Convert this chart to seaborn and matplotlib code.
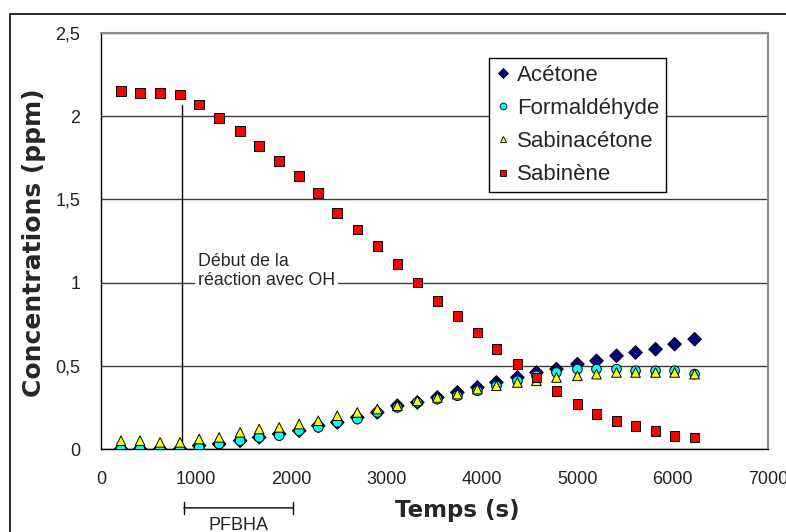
import pandas as pd
import matplotlib.pyplot as plt
from matplotlib.lines import Line2D
import seaborn as sns

#======== Data ========#
temps = [210, 410, 620, 830, 1030, 1240, 1460, 1660, 1870, 2080,
         2280, 2480, 2690, 2900, 3110, 3320, 3530, 3740, 3950, 4150,
         4370, 4570, 4780, 5000, 5200, 5410, 5610, 5820, 6020, 6230]

acetone = [0.00, 0.00, 0.00, 0.00, 0.02, 0.03, 0.05, 0.07, 0.09, 0.11,
           0.14, 0.16, 0.19, 0.22, 0.26, 0.28, 0.31, 0.34, 0.37, 0.40,
           0.43, 0.46, 0.48, 0.51, 0.53, 0.56, 0.58, 0.60, 0.63, 0.66]

formaldehyde = [0.00, 0.00, 0.00, 0.00, 0.01, 0.03, 0.05, 0.07, 0.08, 0.11,
                0.13, 0.16, 0.18, 0.22, 0.25, 0.28, 0.30, 0.32, 0.35, 0.38,
                0.41, 0.44, 0.46, 0.48, 0.48, 0.48, 0.47, 0.47, 0.47, 0.45]

sabinacetone = [0.05, 0.05, 0.04, 0.04, 0.06, 0.07, 0.10, 0.12, 0.13, 0.15,
                0.17, 0.20, 0.22, 0.24, 0.26, 0.29, 0.31, 0.33, 0.36, 0.38,
                0.40, 0.41, 0.43, 0.44, 0.45, 0.46, 0.46, 0.46, 0.46, 0.45]

sabinene = [2.15, 2.14, 2.14, 2.13, 2.07, 1.99, 1.91, 1.82, 1.73, 1.64,
            1.54, 1.42, 1.32, 1.22, 1.11, 1.00, 0.89, 0.80, 0.70, 0.60,
            0.51, 0.43, 0.35, 0.27, 0.21, 0.17, 0.14, 0.11, 0.08, 0.07]

series_names = ['Acétone', 'Formaldéhyde', 'Sabinacétone', 'Sabinène']
x_ticks = [0, 1000, 2000, 3000, 4000, 5000, 6000, 7000]
y_ticks = [0, 0.5, 1, 1.5, 2, 2.5]
y_tick_labels = ['0', '0,5', '1', '1,5', '2', '2,5']

# annotations (start of OH reaction, PFBHA sampling window)
debut_oh = 850
debut_oh_top = 2.07
pfbha_start, pfbha_end = 871, 2015

#======== Long-form table for seaborn ========#
df = pd.DataFrame({
    'Temps': temps * 4,
    'Concentration': acetone + formaldehyde + sabinacetone + sabinene,
    'Composé': [n for n in series_names for _ in temps],
})

palette = {'Acétone': '#000080', 'Formaldéhyde': '#00FFFF',
           'Sabinacétone': '#FFFF00', 'Sabinène': '#FF0000'}
markers = {'Acétone': 'D', 'Formaldéhyde': 'o',
           'Sabinacétone': '^', 'Sabinène': 's'}

sns.set_style('white')
plt.rcParams['font.family'] = ['Liberation Sans', 'DejaVu Sans']

fig = plt.figure(figsize=(7.86, 5.32), dpi=100)
ax = fig.add_axes([0.1285, 0.156, 0.8486, 0.782])

sns.scatterplot(data=df, x='Temps', y='Concentration', hue='Composé',
                style='Composé', palette=palette, markers=markers, s=48,
                edgecolor='black', linewidth=0.7, ax=ax, zorder=3)

ax.set_xlim(0, 7000)
ax.set_ylim(0, 2.5)
ax.set_xticks(x_ticks)
ax.set_yticks(y_ticks)
ax.set_yticklabels(y_tick_labels)

ax.set_axisbelow(True)
ax.grid(axis='y', color='#3c3c3c', linewidth=1)
ax.grid(axis='x', visible=False)
for side in ['left', 'bottom']:
    ax.spines[side].set_color('black')
    ax.spines[side].set_linewidth(1)
for side in ['top', 'right']:
    ax.spines[side].set_color('#8c8c8c')
    ax.spines[side].set_linewidth(1.5)

ax.tick_params(axis='both', direction='out', length=6, width=1,
               color='black', labelcolor='#222222', labelsize=13)
ax.tick_params(axis='x', pad=10)
ax.tick_params(axis='y', pad=9)

ax.set_xlabel('Temps (s)', fontsize=16.5, fontweight='bold', family='DejaVu Sans')
ax.xaxis.label.set_va('center')
ax.xaxis.set_label_coords(0.534, -0.147)
ax.set_ylabel('Concentrations (ppm)', fontsize=18, fontweight='bold', family='DejaVu Sans')
ax.yaxis.label.set_va('center')
ax.yaxis.set_label_coords(-0.1, 0.495)

# legend
old = ax.get_legend()
handles = old.legend_handles
labels = [t.get_text() for t in old.get_texts()]
old.remove()
leg = ax.legend(handles, labels, loc='upper left', bbox_to_anchor=(0.582, 0.94),
                frameon=True, fancybox=False, edgecolor='black', framealpha=1,
                fontsize=16, labelspacing=0.55, handlelength=0.6,
                handletextpad=0.35, borderpad=0.3, borderaxespad=0,
                markerscale=0.7)
leg.get_frame().set_linewidth(1)
for h in leg.legend_handles:
    h.set_markeredgecolor('black')
    h.set_markeredgewidth(0.6)

# start of reaction marker
ax.plot([debut_oh, debut_oh], [0, debut_oh_top], color='black', lw=1, zorder=1.5)
ax.text(1018, 1.07, 'Début de la\nréaction avec OH', fontsize=12.8, ha='left',
        va='center', linespacing=1.1, zorder=2,
        bbox=dict(boxstyle='square,pad=0.15', facecolor='white', edgecolor='none'))

# PFBHA sampling window under the axis
ax.annotate('', xy=(pfbha_start, -0.354), xytext=(pfbha_end, -0.354),
            arrowprops=dict(arrowstyle='|-|, widthA=0.45, widthB=0.45',
                            color='black', lw=1, shrinkA=0, shrinkB=0),
            annotation_clip=False)
ax.text((pfbha_start + pfbha_end) / 2, -0.46, 'PFBHA', ha='center',
        va='center', fontsize=13, color='#222222', clip_on=False)

# outer chart border
fig.add_artist(Line2D([10 / 786, 1], [1 - 14 / 532, 1 - 14 / 532],
                      transform=fig.transFigure, color='#2a2a2a', lw=1.4))
fig.add_artist(Line2D([10 / 786, 10 / 786], [0, 1 - 14 / 532],
                      transform=fig.transFigure, color='#2a2a2a', lw=1.4))

fig.savefig('out.png', dpi=100)
